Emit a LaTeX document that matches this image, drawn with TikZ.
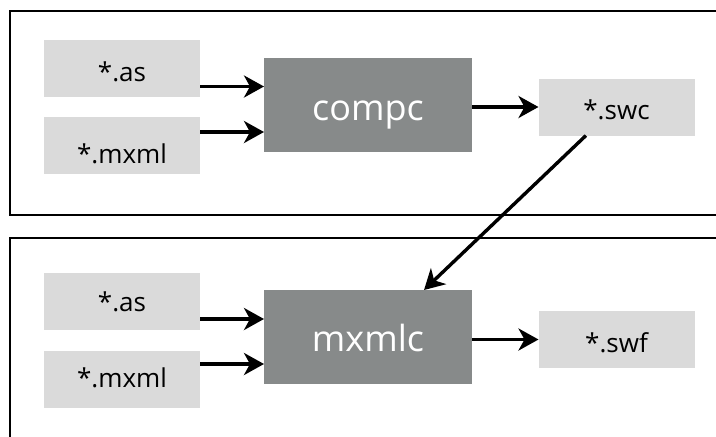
\documentclass[tikz,border=0pt]{standalone}
\usepackage{fontspec}
\setmainfont{Open Sans}
\usetikzlibrary{arrows.meta,calc}
\definecolor{filebg}{HTML}{DADADA}
\definecolor{toolbg}{HTML}{878A8A}

\begin{document}
\begin{tikzpicture}[x=1pt,y=-1pt,
  file/.style={rectangle, fill=filebg, minimum width=156pt, minimum height=57pt, inner sep=0pt, outer sep=0pt, text depth=0pt, text height=25pt, font=\fontsize{26}{30}\selectfont},
  tool/.style={rectangle, fill=toolbg, minimum width=208pt, minimum height=94pt, inner sep=0pt, outer sep=0pt, text depth=0pt, text height=30pt, text=white, font=\fontsize{36}{42}\selectfont},
  flow/.style={-{Stealth[length=20pt,width=22pt,inset=6pt]}, line width=3.4pt},
  frame/.style={line width=1.6pt}]
\useasboundingbox (0,0) rectangle (716,437);
% the two build stages
\draw[frame] (716,11) -- (10,11) -- (10,215) -- (716,215);
\draw[frame] (716,238) -- (10,238) -- (10,437);
% library build
\node[file] (as1) at (122,68.5) {*.as};
\node[file, text height=35pt] (mxml1) at (122,145.5) {*.mxml};
\node[tool] (compc) at (368,105) {compc};
\node[file, text height=24pt] (swc) at (616.5,107) {*.swc};
% application build
\node[file, text height=20pt] (as2) at (122,301) {*.as};
\node[file, text height=16pt] (mxml2) at (122,379) {*.mxml};
\node[tool, text height=29pt] (mxmlc) at (368,337) {mxmlc};
\node[file, text height=26pt] (swf) at (616.5,339.5) {*.swf};
\coordinate (a1) at ($(as1.east)+(0,18)$);
\coordinate (m1) at ($(mxml1.east)+(0,-13.5)$);
\coordinate (a2) at ($(as2.east)+(0,18)$);
\coordinate (m2) at ($(mxml2.east)+(0,-15)$);
\draw[flow] (a1) -- (a1 -| compc.west);
\draw[flow] (m1) -- (m1 -| compc.west);
\draw[flow] (swc.west -| compc.east) -- (swc.west);
\draw[flow] (a2) -- (a2 -| mxmlc.west);
\draw[flow] (m2) -- (m2 -| mxmlc.west);
\draw[flow] (swf.west -| mxmlc.east) -- (swf.west);
\draw[flow] (swc.223) -- (mxmlc.40);
\end{tikzpicture}
\end{document}
